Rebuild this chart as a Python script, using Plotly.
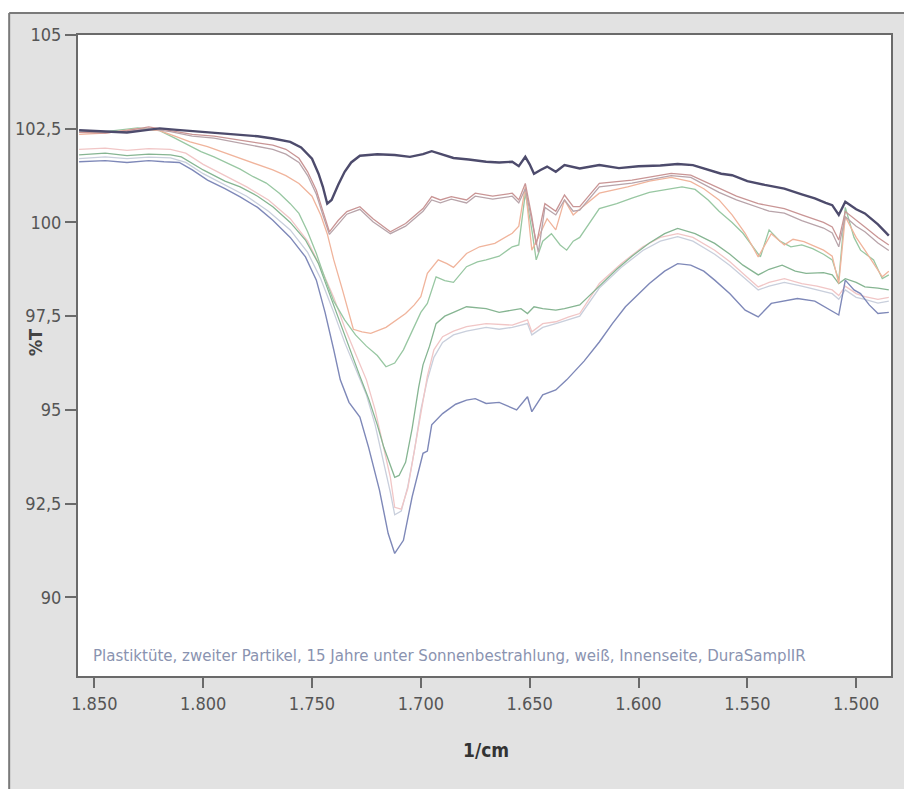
import plotly.graph_objects as go

# ---------------- data (wavenumber in 1/cm, transmission in %T) ----------------
dark_x = [1857, 1850, 1844, 1835, 1828, 1820, 1812, 1801, 1792, 1783, 1775, 1768, 1760, 1755, 1750, 1747, 1745, 1743, 1741, 1738, 1735, 1732, 1728, 1720, 1712, 1705, 1699, 1695, 1690, 1685, 1678, 1670, 1664, 1658, 1655, 1652, 1650, 1648, 1645, 1642, 1638, 1634, 1627, 1618, 1609, 1600, 1590, 1582, 1575, 1568, 1562, 1557, 1550, 1542, 1533, 1525, 1519, 1514, 1511, 1508, 1505, 1500, 1496, 1490, 1485]
dark_y = [102.46, 102.44, 102.42, 102.4, 102.45, 102.51, 102.47, 102.42, 102.38, 102.33, 102.3, 102.24, 102.15, 102.0, 101.7, 101.3, 100.95, 100.5, 100.6, 101.0, 101.35, 101.6, 101.78, 101.82, 101.8, 101.75, 101.82, 101.9, 101.8, 101.72, 101.68, 101.62, 101.6, 101.62, 101.5, 101.75, 101.55, 101.3, 101.4, 101.49, 101.35, 101.53, 101.44, 101.53, 101.45, 101.5, 101.52, 101.56, 101.53, 101.4, 101.3, 101.26, 101.1, 101.0, 100.9, 100.75, 100.64, 100.52, 100.46, 100.2, 100.55, 100.35, 100.24, 99.95, 99.65]

rose_x = [1857, 1845, 1835, 1825, 1815, 1805, 1795, 1783, 1775, 1768, 1762, 1756, 1752, 1748, 1745, 1742, 1738, 1734, 1728, 1722, 1714, 1707, 1699, 1695, 1691, 1686, 1679, 1675, 1667, 1658, 1655, 1652, 1649, 1647, 1643, 1638, 1634, 1630, 1627, 1618, 1603, 1592, 1585, 1576, 1570, 1563, 1555, 1545, 1540, 1533, 1525, 1520, 1515, 1511, 1508, 1505, 1500, 1496, 1490, 1485]
rose_y = [102.4, 102.38, 102.45, 102.55, 102.45, 102.35, 102.3, 102.2, 102.12, 102.06, 101.95, 101.71, 101.35, 100.86, 100.3, 99.75, 100.05, 100.29, 100.42, 100.1, 99.75, 99.97, 100.37, 100.69, 100.6, 100.69, 100.6, 100.78, 100.7, 100.78, 100.6, 101.04, 100.15, 99.4, 100.5, 100.3, 100.73, 100.42, 100.42, 101.04, 101.13, 101.25, 101.31, 101.26, 101.1, 100.9, 100.7, 100.5, 100.45, 100.37, 100.2, 100.11, 100.0, 99.88, 99.53, 100.29, 100.05, 99.88, 99.6, 99.4]

taupe_x = [1857, 1845, 1835, 1825, 1815, 1805, 1795, 1783, 1775, 1768, 1762, 1756, 1752, 1748, 1745, 1742, 1738, 1734, 1728, 1722, 1714, 1707, 1699, 1695, 1691, 1686, 1679, 1675, 1667, 1658, 1655, 1652, 1649, 1646, 1643, 1638, 1634, 1630, 1627, 1618, 1603, 1592, 1585, 1576, 1570, 1563, 1555, 1545, 1540, 1533, 1525, 1520, 1515, 1511, 1508, 1505, 1500, 1496, 1490, 1485]
taupe_y = [102.45, 102.4, 102.42, 102.5, 102.42, 102.3, 102.25, 102.12, 102.02, 101.95, 101.82, 101.6, 101.25, 100.75, 100.2, 99.68, 99.95, 100.22, 100.35, 100.02, 99.7, 99.9, 100.3, 100.6, 100.52, 100.62, 100.52, 100.7, 100.62, 100.7, 100.52, 100.9, 100.05, 99.2, 100.4, 100.2, 100.6, 100.3, 100.33, 100.95, 101.05, 101.18, 101.25, 101.2, 101.02, 100.8, 100.6, 100.4, 100.3, 100.25, 100.05, 99.95, 99.85, 99.72, 99.35, 100.15, 99.9, 99.75, 99.45, 99.25]

salmon_x = [1857, 1845, 1830, 1820, 1813, 1806, 1798, 1790, 1783, 1775, 1768, 1762, 1756, 1750, 1746, 1743, 1740, 1736, 1731, 1727, 1723, 1716, 1711, 1707, 1703, 1700, 1697, 1692, 1688, 1685, 1679, 1673, 1666, 1658, 1655, 1652, 1649, 1646, 1642, 1638, 1634, 1630, 1627, 1618, 1605, 1595, 1585, 1576, 1570, 1563, 1557, 1551, 1545, 1539, 1533, 1529, 1524, 1515, 1511, 1508, 1505, 1500, 1496, 1488, 1485]
salmon_y = [102.35, 102.38, 102.5, 102.45, 102.3, 102.15, 102.02, 101.85, 101.71, 101.55, 101.4, 101.25, 101.04, 100.7, 100.2, 99.7, 99.0, 98.2, 97.15, 97.08, 97.04, 97.2, 97.4, 97.57, 97.8, 98.02, 98.64, 99.0, 98.9, 98.8, 99.17, 99.35, 99.44, 99.71, 99.9, 100.95, 99.26, 99.6, 100.1, 99.8, 100.6, 100.2, 100.35, 100.78, 100.95, 101.1, 101.2, 101.09, 100.9, 100.6, 100.2, 99.71, 99.08, 99.7, 99.4, 99.55, 99.49, 99.26, 99.1, 98.37, 100.15, 99.6, 99.26, 98.55, 98.7]

green1_x = [1857, 1845, 1830, 1820, 1813, 1806, 1801, 1795, 1789, 1783, 1777, 1771, 1765, 1760, 1756, 1752, 1748, 1744, 1740, 1735, 1730, 1725, 1720, 1716, 1712, 1708, 1704, 1700, 1697, 1693, 1689, 1685, 1679, 1674, 1670, 1664, 1658, 1655, 1652, 1649, 1647, 1644, 1640, 1636, 1633, 1630, 1627, 1618, 1610, 1603, 1595, 1585, 1580, 1574, 1568, 1563, 1557, 1552, 1548, 1544, 1540, 1535, 1530, 1525, 1520, 1515, 1511, 1508, 1505, 1501, 1498, 1492, 1488, 1485]
green1_y = [102.4, 102.42, 102.52, 102.45, 102.25, 102.05, 101.89, 101.75, 101.58, 101.42, 101.22, 101.05, 100.78, 100.5, 100.24, 99.75, 99.17, 98.5, 97.9, 97.4, 97.0, 96.7, 96.45, 96.15, 96.25, 96.6, 97.1, 97.6, 97.84, 98.55, 98.45, 98.4, 98.82, 98.95, 99.0, 99.1, 99.35, 99.4, 100.78, 99.8, 99.0, 99.5, 99.7, 99.4, 99.26, 99.5, 99.6, 100.37, 100.5, 100.65, 100.8, 100.9, 100.95, 100.88, 100.6, 100.3, 100.0, 99.71, 99.4, 99.08, 99.8, 99.5, 99.35, 99.4, 99.3, 99.15, 99.0, 98.46, 100.4, 99.6, 99.26, 99.0, 98.5, 98.6]

green2_x = [1857, 1845, 1835, 1825, 1815, 1810, 1800, 1790, 1783, 1775, 1768, 1760, 1753, 1747, 1742, 1737, 1732, 1728, 1724, 1720, 1717, 1714, 1712, 1710, 1707, 1704, 1701, 1699, 1696, 1693, 1689, 1685, 1679, 1670, 1664, 1658, 1654, 1651, 1648, 1644, 1638, 1634, 1630, 1627, 1618, 1610, 1603, 1595, 1588, 1582, 1574, 1565, 1558, 1552, 1545, 1540, 1534, 1528, 1523, 1515, 1511, 1508, 1505, 1500, 1496, 1490, 1485]
green2_y = [101.8, 101.85, 101.78, 101.82, 101.8, 101.75, 101.4, 101.1, 100.95, 100.7, 100.42, 100.0, 99.53, 98.9, 98.1, 97.3, 96.5, 95.9, 95.3, 94.6, 94.0, 93.5, 93.2, 93.25, 93.6, 94.5, 95.6, 96.2, 96.7, 97.3, 97.5, 97.6, 97.75, 97.7, 97.6, 97.66, 97.7, 97.57, 97.75, 97.7, 97.66, 97.7, 97.75, 97.8, 98.3, 98.75, 99.1, 99.45, 99.7, 99.84, 99.7, 99.44, 99.15, 98.86, 98.6, 98.75, 98.86, 98.7, 98.64, 98.66, 98.6, 98.37, 98.5, 98.4, 98.28, 98.25, 98.2]

pink_x = [1857, 1845, 1835, 1825, 1815, 1808, 1800, 1790, 1780, 1770, 1760, 1752, 1746, 1740, 1735, 1730, 1725, 1721, 1717, 1714, 1712, 1709, 1706, 1703, 1700, 1697, 1694, 1690, 1685, 1679, 1670, 1664, 1658, 1651, 1649, 1644, 1638, 1632, 1627, 1618, 1608, 1598, 1590, 1582, 1575, 1565, 1558, 1552, 1545, 1540, 1533, 1525, 1518, 1511, 1508, 1505, 1500, 1496, 1490, 1485]
pink_y = [101.95, 101.98, 101.92, 101.97, 101.95, 101.85, 101.55, 101.25, 100.95, 100.6, 100.1, 99.5, 98.8, 98.0, 97.2, 96.5, 95.8, 95.0, 94.0, 93.2, 92.4, 92.35, 92.9, 93.9, 95.0, 95.9, 96.6, 96.95, 97.1, 97.22, 97.3, 97.28, 97.26, 97.4, 97.08, 97.3, 97.35, 97.48, 97.57, 98.37, 98.9, 99.35, 99.6, 99.7, 99.6, 99.26, 98.95, 98.64, 98.28, 98.4, 98.5, 98.37, 98.3, 98.2, 98.05, 98.3, 98.1, 98.02, 97.95, 98.0]

grey_x = [1857, 1845, 1835, 1825, 1815, 1808, 1800, 1790, 1780, 1770, 1760, 1752, 1746, 1740, 1735, 1730, 1725, 1721, 1717, 1714, 1712, 1709, 1706, 1703, 1700, 1697, 1694, 1690, 1685, 1679, 1670, 1664, 1658, 1651, 1649, 1644, 1638, 1632, 1627, 1618, 1608, 1598, 1590, 1582, 1575, 1565, 1558, 1552, 1545, 1540, 1533, 1525, 1518, 1511, 1508, 1505, 1500, 1496, 1490, 1485]
grey_y = [101.7, 101.75, 101.7, 101.74, 101.72, 101.6, 101.3, 101.0, 100.7, 100.3, 99.8, 99.2, 98.5, 97.6, 96.8, 96.1, 95.4, 94.6, 93.6, 92.8, 92.2, 92.3, 92.95, 93.9, 95.0, 95.8, 96.4, 96.8, 97.0, 97.1, 97.2, 97.15, 97.2, 97.3, 97.0, 97.2, 97.3, 97.4, 97.5, 98.25, 98.8, 99.25, 99.5, 99.62, 99.5, 99.15, 98.85, 98.55, 98.2, 98.3, 98.4, 98.3, 98.2, 98.1, 97.95, 98.2, 98.0, 97.95, 97.85, 97.9]

blue_x = [1857, 1845, 1835, 1825, 1818, 1811, 1805, 1798, 1790, 1783, 1775, 1768, 1760, 1753, 1748, 1744, 1740, 1737, 1733, 1728, 1724, 1719, 1715, 1712, 1708, 1704, 1699, 1697, 1695, 1690, 1684, 1679, 1675, 1670, 1664, 1656, 1651, 1649, 1644, 1638, 1633, 1625, 1618, 1612, 1606, 1600, 1595, 1588, 1582, 1576, 1570, 1565, 1558, 1551, 1545, 1539, 1533, 1527, 1519, 1513, 1508, 1505, 1501, 1498, 1494, 1490, 1485]
blue_y = [101.62, 101.65, 101.6, 101.65, 101.62, 101.6, 101.4, 101.13, 100.9, 100.68, 100.4, 100.06, 99.6, 99.08, 98.46, 97.6, 96.6, 95.8, 95.2, 94.81, 94.0, 92.86, 91.7, 91.17, 91.52, 92.68, 93.84, 93.9, 94.6, 94.9, 95.15, 95.26, 95.3, 95.17, 95.2, 95.0, 95.35, 94.95, 95.4, 95.53, 95.8, 96.3, 96.81, 97.3, 97.75, 98.1, 98.37, 98.7, 98.9, 98.86, 98.7, 98.46, 98.1, 97.66, 97.48, 97.84, 97.9, 97.97, 97.9, 97.7, 97.53, 98.46, 98.2, 98.1, 97.8, 97.57, 97.6]

x_ticks = [1850, 1800, 1750, 1700, 1650, 1600, 1550, 1500]
y_ticks = [90, 92.5, 95, 97.5, 100, 102.5, 105]
note_text = "Plastiktüte, zweiter Partikel, 15 Jahre unter Sonnenbestrahlung, weiß, Innenseite, DuraSamplIR"

# ---------------- figure ----------------
W, H = 904, 789
L, R, T, B = 78, 11, 35, 113
PW, PH = W - L - R, H - T - B


def px(x):
    return (x - L) / PW


def py(y):
    return (H - B - y) / PH


FONT = "Liberation Sans Narrow, DejaVu Sans Condensed, Arial Narrow, sans-serif"

series = [
    (grey_x, grey_y, "#c9cfdc", 1.3),
    (pink_x, pink_y, "#f1c6c6", 1.3),
    (green2_x, green2_y, "#86b592", 1.3),
    (blue_x, blue_y, "#7e88b8", 1.4),
    (green1_x, green1_y, "#98c7a2", 1.3),
    (salmon_x, salmon_y, "#f0b49c", 1.3),
    (taupe_x, taupe_y, "#b8a4aa", 1.3),
    (rose_x, rose_y, "#c99595", 1.3),
    (dark_x, dark_y, "#4d4b6c", 2.4),
]

fig = go.Figure()
for xs, ys, col, w in series:
    fig.add_trace(go.Scatter(x=xs, y=ys, mode="lines",
                             line=dict(color=col, width=w),
                             showlegend=False, hoverinfo="skip"))

frame_col = "#7a7a7a"
shapes = [
    dict(type="rect", xref="paper", yref="paper", x0=px(-5), x1=px(W + 5), y0=py(13), y1=py(-5),
         fillcolor="white", line=dict(width=0), layer="below"),
    dict(type="rect", xref="paper", yref="paper", x0=px(-5), x1=px(9), y0=py(H + 5), y1=py(13),
         fillcolor="white", line=dict(width=0), layer="below"),
    dict(type="line", xref="paper", yref="paper", x0=px(9), x1=px(W + 5), y0=py(13), y1=py(13),
         line=dict(color=frame_col, width=2), layer="below"),
    dict(type="line", xref="paper", yref="paper", x0=px(9), x1=px(9), y0=py(13), y1=py(H + 5),
         line=dict(color=frame_col, width=2), layer="below"),
]

annotations = [
    dict(text=note_text, xref="paper", yref="paper", x=px(91), y=py(655),
         xanchor="left", yanchor="middle", showarrow=False,
         font=dict(family=FONT, size=16.7, color="#8a93b0")),
    dict(text="<b>1/cm</b>", xref="paper", yref="paper", x=px(487), y=py(750),
         xanchor="center", yanchor="middle", showarrow=False,
         font=dict(family=FONT, size=19, color="#333333")),
    dict(text="<b>%T</b>", xref="paper", yref="paper", x=px(35), y=py(343),
         xanchor="center", yanchor="middle", showarrow=False, textangle=-90,
         font=dict(family=FONT, size=18, color="#444444")),
]

fig.update_layout(
    width=W, height=H,
    margin=dict(l=L, r=R, t=T, b=B, pad=0),
    paper_bgcolor="#e2e2e2",
    plot_bgcolor="white",
    separators=",.",
    shapes=shapes,
    annotations=annotations,
    font=dict(family=FONT, size=17, color="#555555"),
    xaxis=dict(range=[1857.5, 1484], tickmode="array", tickvals=x_ticks,
               separatethousands=True, ticks="outside", ticklen=10, tickwidth=1.5,
               tickcolor="#6a6a6a", showline=True, linecolor="#6a6a6a", linewidth=2,
               mirror=True, showgrid=False, zeroline=False,
               tickfont=dict(family=FONT, size=18, color="#555555")),
    yaxis=dict(range=[87.9, 105], tickmode="array", tickvals=y_ticks,
               ticks="outside", ticklen=11, tickwidth=1.5,
               tickcolor="#6a6a6a", showline=True, linecolor="#6a6a6a", linewidth=2,
               mirror=True, showgrid=False, zeroline=False,
               tickfont=dict(family=FONT, size=18, color="#555555")),
)

fig.write_html("out.html")
